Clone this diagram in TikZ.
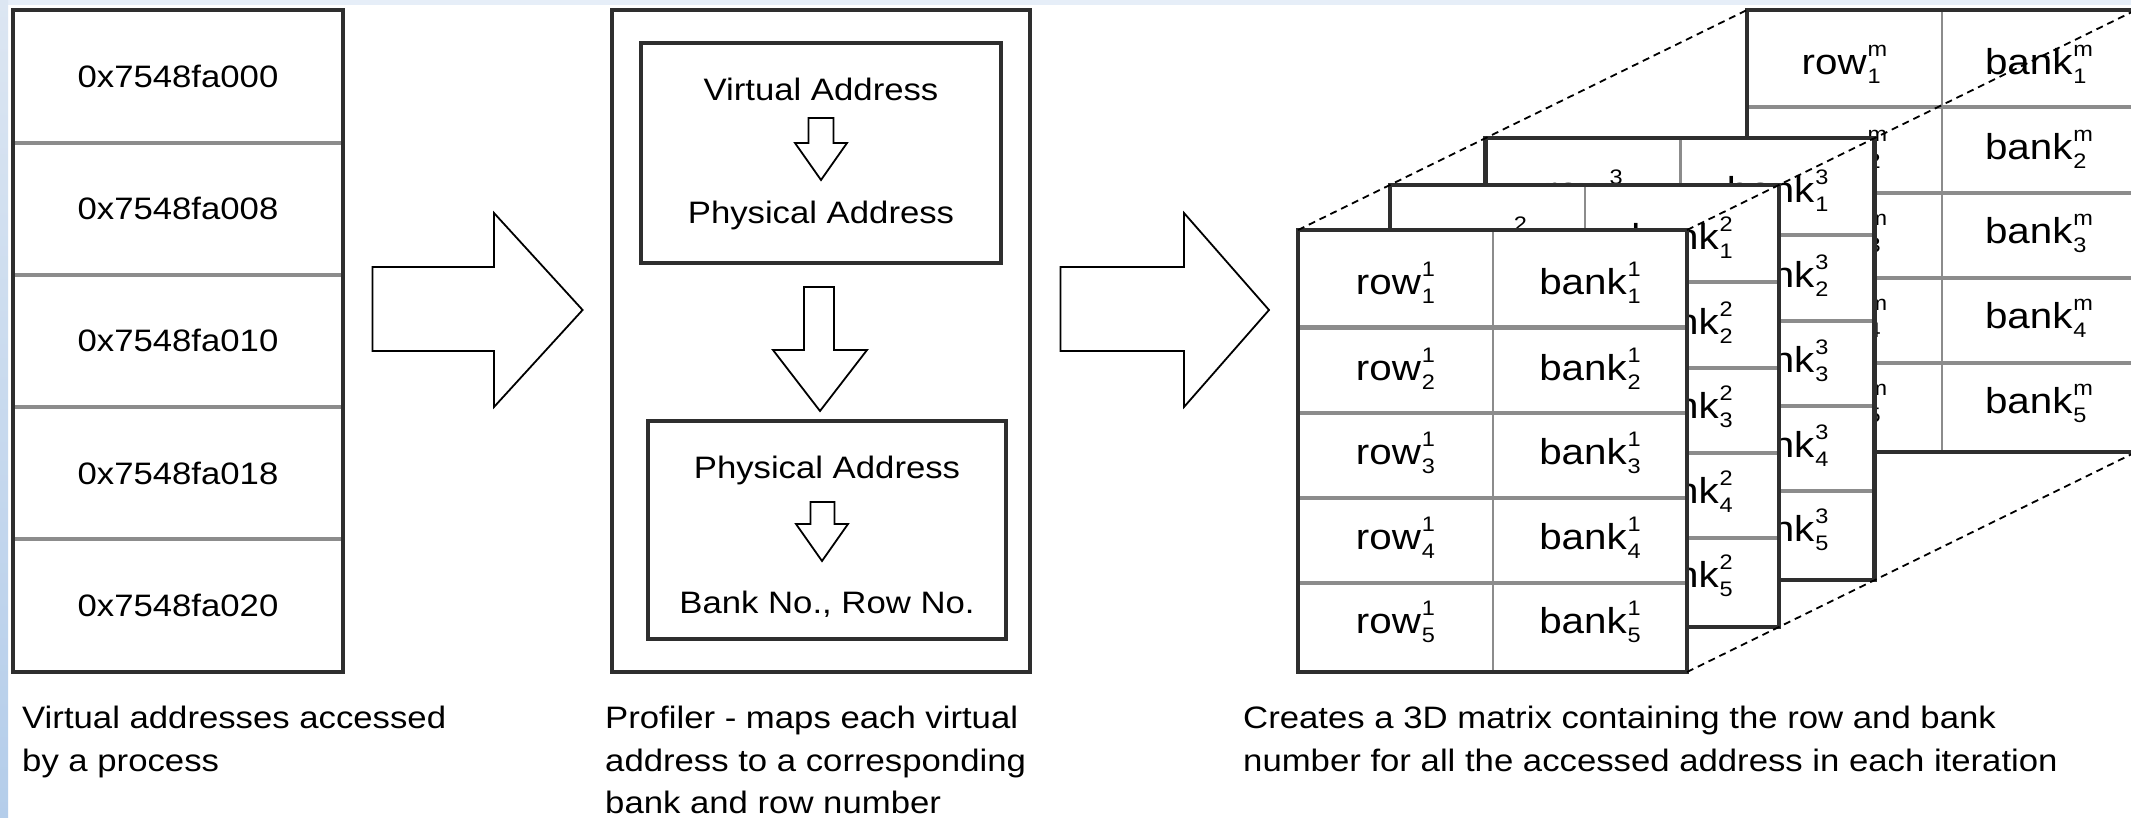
\documentclass[tikz,border=0pt]{standalone}
\usepackage{fontspec}
\setmainfont{Liberation Sans}[FakeStretch=1.12]
\usetikzlibrary{calc}

\definecolor{edge}{HTML}{2E2E2E}
\definecolor{rule}{HTML}{8C8C8C}
\definecolor{stripTop}{HTML}{E6EEF8}
\definecolor{barTop}{HTML}{DCE6F2}
\definecolor{barBot}{HTML}{B4CDEA}

\newcommand\mainsz{\fontsize{31}{40}\selectfont}
\newcommand\cellsz{\fontsize{36}{40}\selectfont}
\newcommand\scrsz{\fontsize{21}{21}\selectfont}
% entry with stacked subscript and superscript
\newcommand\ent[3]{#1\kern1pt\rlap{\raisebox{-9pt}{\scrsz #2}}\raisebox{18pt}{\scrsz #3}}

\tikzset{
  tabframe/.style={draw=edge, line width=4.5pt},
  rowrule/.style={draw=rule, line width=4pt},
  colrule/.style={draw=rule, line width=2.5pt},
  stagebox/.style={draw=edge, line width=4pt},
  blockarrow/.style={draw=black, line width=1.8pt, fill=white, line join=miter},
  txt/.style={inner sep=0pt, font=\mainsz, anchor=base},
  cell/.style={inner sep=0pt, font=\cellsz, anchor=base},
  captxt/.style={inner sep=0pt, font=\mainsz, anchor=base west},
  guide/.style={draw=black, line width=1.8pt, dash pattern=on 7pt off 5pt},
}

% one layer of the 3D matrix: name, top-left x, top-left y, iteration index
\newcommand\layer[4]{%
  \begin{scope}[shift={(#2,#3)}]
    \coordinate (#1-tl) at (0,0);
    \coordinate (#1-tr) at (389,0);
    \coordinate (#1-br) at (389,442);
    \fill[white] (0,0) rectangle (389,442);
    \draw[rowrule] (0,97.5) -- (389,97.5) (0,183) -- (389,183)
                   (0,268) -- (389,268) (0,353) -- (389,353);
    \draw[colrule] (195,0) -- (195,442);
    \foreach \k/\b in {1/65,2/150,3/234,4/319,5/403}{
      \node[cell] (#1-row\k) at (97.5,\b) {\ent{row}{\k}{#4}};
      \node[cell] (#1-bank\k) at (292,\b) {\ent{bank}{\k}{#4}};
    }
    \draw[tabframe] (0,0) rectangle (389,442);
  \end{scope}}

\begin{document}
\begin{tikzpicture}[x=1pt, y=-1pt]
  \useasboundingbox (0,0) rectangle (2131,818);
  % window background
  \fill[white] (0,0) rectangle (2131,818);
  \fill[stripTop] (0,0) rectangle (2131,5);
  \shade[top color=barTop, bottom color=barBot] (0,0) rectangle (8,818);

  % ---- virtual address list ----
  \draw[rowrule] (13,143) -- (343,143) (13,275) -- (343,275)
                 (13,407) -- (343,407) (13,539) -- (343,539);
  \draw[tabframe] (13,10) rectangle (343,672);
  \node[txt] (va0) at (178,87.5) {0x7548fa000};
  \node[txt] (va1) at (178,220)  {0x7548fa008};
  \node[txt] (va2) at (178,352)  {0x7548fa010};
  \node[txt] (va3) at (178,484)  {0x7548fa018};
  \node[txt] (va4) at (178,616.5){0x7548fa020};
  \node[captxt] (capA1) at (22,728) {Virtual addresses accessed};
  \node[captxt] (capA2) at (22,771) {by a process};

  % ---- block arrow into the profiler ----
  \draw[blockarrow] (372.5,267) -- (494,267) -- (494,213) -- (582.6,310)
        -- (494,407) -- (494,351) -- (372.5,351) -- cycle;

  % ---- profiler ----
  \draw[stagebox] (612,10) rectangle (1030,672);
  \draw[stagebox] (641,43) rectangle (1001,263);
  \draw[stagebox] (648,421) rectangle (1006,639);
  \node[txt] (pva)  at (821,101) {Virtual Address};
  \node[txt] (ppa1) at (821,224) {Physical Address};
  \node[txt] (ppa2) at (827,478) {Physical Address};
  \node[txt] (pbr)  at (827,613) {Bank No., Row No.};
  % small translation arrows
  \draw[blockarrow] (808.5,118) -- (833.5,118) -- (833.5,143) -- (847,143)
        -- (821,180) -- (795,143) -- (808.5,143) -- cycle;
  \draw[blockarrow] (810.5,502) -- (834.5,502) -- (834.5,524) -- (848,524)
        -- (822,561) -- (796,524) -- (810.5,524) -- cycle;
  % arrow between the two stages
  \draw[blockarrow] (804,287) -- (834,287) -- (834,350) -- (867,350)
        -- (820,411) -- (773,350) -- (804,350) -- cycle;
  \node[captxt] (capB1) at (605,728) {Profiler - maps each virtual};
  \node[captxt] (capB2) at (605,771) {address to a corresponding};
  \node[captxt] (capB3) at (605,813) {bank and row number};

  % ---- block arrow into the matrix ----
  \draw[blockarrow] (1060.5,267) -- (1184,267) -- (1184,213) -- (1269,310)
        -- (1184,407) -- (1184,351) -- (1060.5,351) -- cycle;

  % ---- 3D matrix, back to front ----
  \layer{Lm}{1747}{10}{m}
  \layer{L3}{1485.7}{138}{3}
  \layer{L2}{1390}{184.9}{2}
  \layer{L1}{1298}{230}{1}
  \draw[guide] (L1-tl) -- (Lm-tl);
  \draw[guide] (L1-tr) -- (Lm-tr);
  \draw[guide] (L1-br) -- (Lm-br);
  \node[captxt] (capC1) at (1243,728) {Creates a 3D matrix containing the row and bank};
  \node[captxt] (capC2) at (1243,771) {number for all the accessed address in each iteration};
\end{tikzpicture}
\end{document}
